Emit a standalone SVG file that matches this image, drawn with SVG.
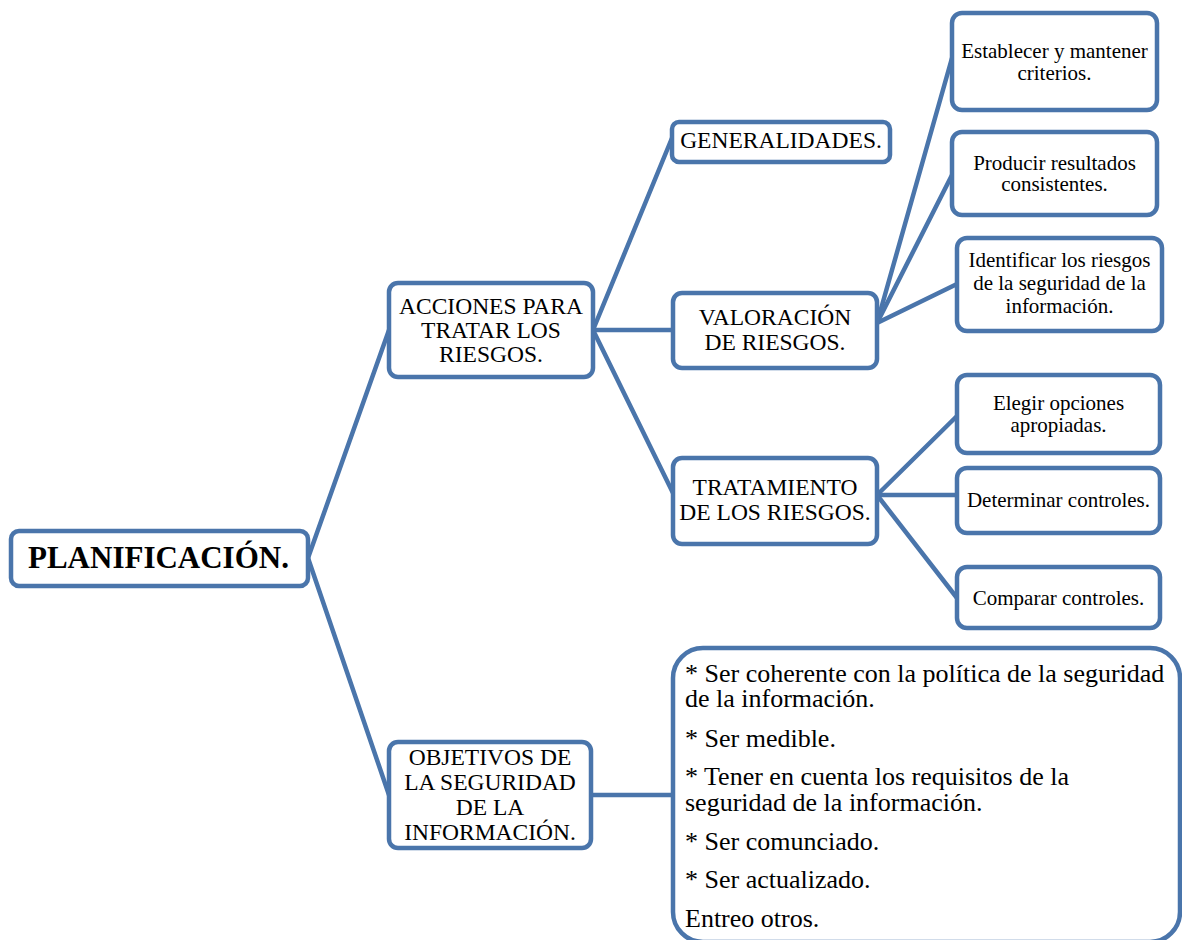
<svg xmlns="http://www.w3.org/2000/svg" width="1182" height="940" viewBox="0 0 1182 940">
  <style>
    .box { fill: #ffffff; stroke: #4a75ab; stroke-width: 4.5; }
    .link { fill: none; stroke: #4a75ab; stroke-width: 4.5; stroke-linecap: round; }
    .root, .mid, .leaf, .list { font-family: 'Liberation Serif', 'Times New Roman', serif; fill: #000000; }
    .root { font-size: 31px; font-weight: bold; }
    .mid { font-size: 23.5px; text-anchor: middle; }
    .leaf { font-size: 21px; text-anchor: middle; }
    .list { font-size: 26px; }
  </style>
  <rect width="1182" height="940" fill="#ffffff"/>

  <!-- connectors -->
  <g id="connectors">
    <path class="link" d="M308,558 L389,330"/>
    <path class="link" d="M308,558 L389,795"/>
    <path class="link" d="M593,330 L672,138"/>
    <path class="link" d="M593,330 L673,330"/>
    <path class="link" d="M593,330 L673,493"/>
    <path class="link" d="M877,323 L952,58"/>
    <path class="link" d="M877,323 L952,175"/>
    <path class="link" d="M877,323 L957,284"/>
    <path class="link" d="M877,495 L957,416"/>
    <path class="link" d="M877,495 L957,495"/>
    <path class="link" d="M877,495 L957,598"/>
    <path class="link" d="M591,795 L673,795"/>
  </g>

  <!-- root -->
  <g id="planificacion">
    <rect class="box" x="11" y="531" width="297" height="55" rx="8"/>
    <text class="root" x="28" y="568">PLANIFICACIÓN.</text>
  </g>

  <!-- first level -->
  <g id="acciones">
    <rect class="box" x="389" y="283" width="204" height="94" rx="9"/>
    <text class="mid" x="491" y="314">ACCIONES PARA</text>
    <text class="mid" x="491" y="338">TRATAR LOS</text>
    <text class="mid" x="491" y="362">RIESGOS.</text>
  </g>
  <g id="objetivos">
    <rect class="box" x="389" y="742" width="202" height="106" rx="9"/>
    <text class="mid" x="490" y="765">OBJETIVOS DE</text>
    <text class="mid" x="490" y="790">LA SEGURIDAD</text>
    <text class="mid" x="490" y="815">DE LA</text>
    <text class="mid" x="490" y="840">INFORMACIÓN.</text>
  </g>

  <!-- second level -->
  <g id="generalidades">
    <rect class="box" x="672" y="122" width="218" height="40" rx="7"/>
    <text class="mid" x="781" y="148">GENERALIDADES.</text>
  </g>
  <g id="valoracion">
    <rect class="box" x="673" y="293" width="204" height="75" rx="9"/>
    <text class="mid" x="775" y="325">VALORACIÓN</text>
    <text class="mid" x="775" y="350">DE RIESGOS.</text>
  </g>
  <g id="tratamiento">
    <rect class="box" x="673" y="458" width="204" height="86" rx="9"/>
    <text class="mid" x="775" y="495">TRATAMIENTO</text>
    <text class="mid" x="775" y="520">DE LOS RIESGOS.</text>
  </g>

  <!-- leaves of VALORACIÓN -->
  <g id="establecer">
    <rect class="box" x="952" y="13" width="205" height="97" rx="10"/>
    <text class="leaf" x="1054.5" y="58">Establecer y mantener</text>
    <text class="leaf" x="1054.5" y="80">criterios.</text>
  </g>
  <g id="producir">
    <rect class="box" x="952" y="132" width="205" height="83" rx="10"/>
    <text class="leaf" x="1054.5" y="170">Producir resultados</text>
    <text class="leaf" x="1054.5" y="191">consistentes.</text>
  </g>
  <g id="identificar">
    <rect class="box" x="957" y="238" width="205" height="93" rx="10"/>
    <text class="leaf" x="1059.5" y="267">Identificar los riesgos</text>
    <text class="leaf" x="1059.5" y="290">de la seguridad de la</text>
    <text class="leaf" x="1059.5" y="313">información.</text>
  </g>

  <!-- leaves of TRATAMIENTO -->
  <g id="elegir">
    <rect class="box" x="957" y="375" width="203" height="78" rx="10"/>
    <text class="leaf" x="1058.5" y="410">Elegir opciones</text>
    <text class="leaf" x="1058.5" y="432">apropiadas.</text>
  </g>
  <g id="determinar">
    <rect class="box" x="957" y="468" width="203" height="65" rx="10"/>
    <text class="leaf" x="1058.5" y="507">Determinar controles.</text>
  </g>
  <g id="comparar">
    <rect class="box" x="957" y="567" width="203" height="61" rx="10"/>
    <text class="leaf" x="1058.5" y="605">Comparar controles.</text>
  </g>

  <!-- objectives list -->
  <g id="lista-objetivos">
    <rect class="box" x="673" y="648" width="507" height="294" rx="30"/>
    <text class="list" x="685" y="682">* Ser coherente con la política de la seguridad</text>
    <text class="list" x="685" y="707">de la información.</text>
    <text class="list" x="685" y="747">* Ser medible.</text>
    <text class="list" x="685" y="785">* Tener en cuenta los requisitos de la</text>
    <text class="list" x="685" y="811">seguridad de la información.</text>
    <text class="list" x="685" y="850">* Ser comunciado.</text>
    <text class="list" x="685" y="888">* Ser actualizado.</text>
    <text class="list" x="685" y="927">Entreo otros.</text>
  </g>
</svg>
